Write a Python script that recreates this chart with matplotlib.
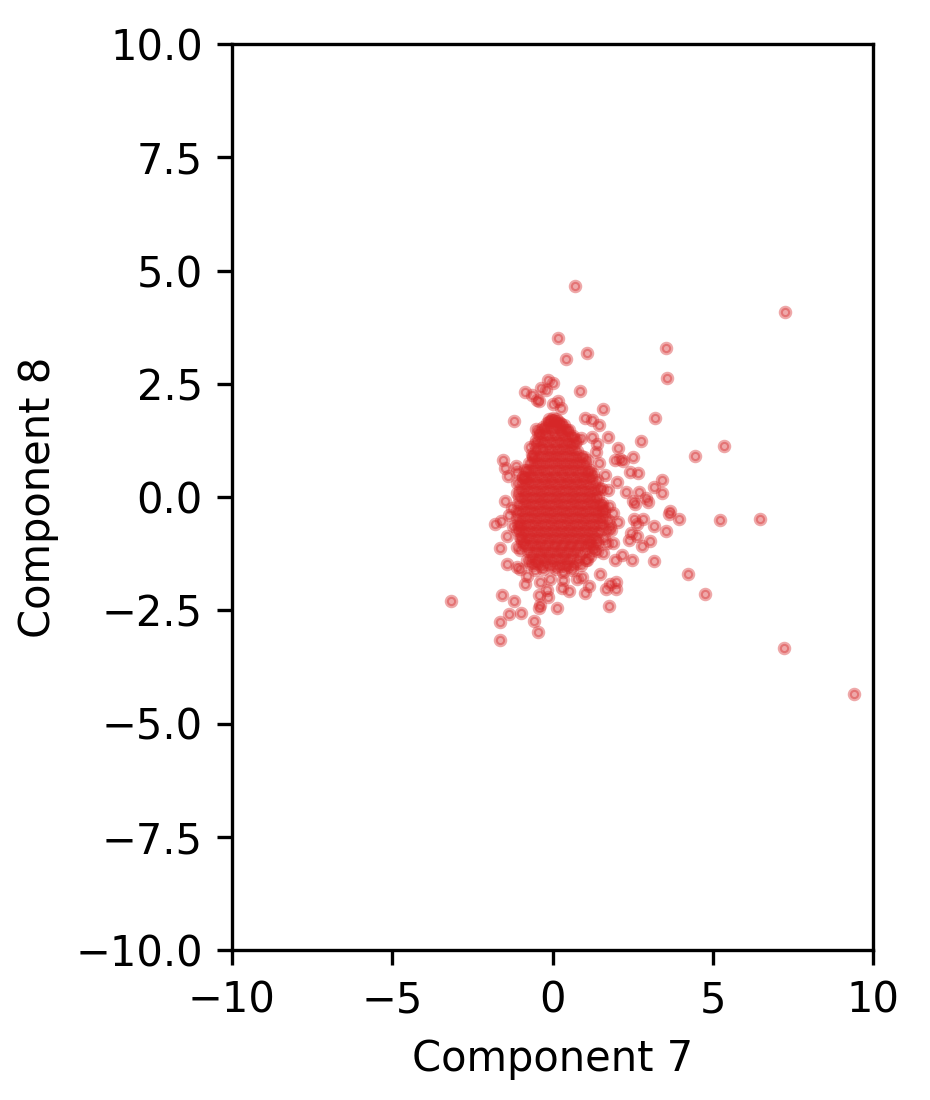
import numpy as np
import matplotlib
matplotlib.use('Agg')
import matplotlib.pyplot as plt

# (component 7, component 8)
outer_points = [
    (.18, 3.50), (1.09, 3.18), (.43, 3.04), (3.55, 3.28), (3.58, 2.62), (-.13, 2.58), (.01, 2.52),
    (-.36, 2.40), (-.20, 2.36), (-.85, 2.32), (-.65, 2.25), (-.49, 2.14), (-.42, 2.12), (.87, 2.34),
    (1.59, 1.94), (0, 2.05), (.18, 2.12), (.25, 1.96), (3.21, 1.74), (-1.19, 1.67), (1.01, 1.74),
    (1.24, 1.69), (1.45, 1.58), (-.5, 1.51), (-.44, 1.41), (1.72, 1.32), (2.77, 1.23), (1.22, 1.32),
    (1.38, 1.18), (-.70, 1.11), (2.03, 1.08), (1.36, 1.0), (4.46, .91), (1.95, .82), (2.11, .83),
    (2.50, .88), (2.21, .80), (-1.53, .82), (-1.48, .65), (-1.14, .68), (-1.38, .46), (-1.12, .56),
    (1.46, .74), (2.42, .56), (2.66, .52), (1.64, .49), (2.02, .33), (-1.12, .30), (3.41, .37),
    (3.18, .23), (3.43, .08), (1.74, .15), (1.53, .17), (2.28, .11), (2.70, .10), (2.92, -.03),
    (2.97, -.12), (2.57, -.15), (2.52, -.08), (-1.47, -.09), (-1.27, -.24), (-1.10, .08), (1.77, -.19),
    (-1.35, -.40), (1.90, -.35), (3.67, -.32), (3.65, -.38), (3.96, -.49), (-1.61, -.52), (-1.78, -.60),
    (2.54, -.49), (2.83, -.49), (2.65, -.60), (2.03, -.55), (3.18, -.63), (3.55, -.74), (-1.22, -.65),
    (1.81, -.73), (-1.41, -.87), (2.44, -.79), (2.63, -.86), (2.40, -.96), (3.05, -.97), (2.80, -1.09),
    (-1.64, -1.13), (-1.12, -1.10), (1.90, -1.02), (1.59, -1.24), (2.16, -1.28), (1.95, -1.39),
    (2.49, -1.39), (3.18, -1.42), (-1.43, -1.48), (-1.12, -1.55), (-1.01, -1.58), (-.55, -1.61),
    (.34, -1.65), (1.48, -1.69), (4.24, -1.71), (-.81, -1.74), (-.08, -1.80), (.91, -1.76), (.75, -1.82),
    (-.39, -1.87), (1.79, -1.91), (1.97, -1.88), (-.86, -1.93), (.34, -1.83), (.29, -2.0), (1.14, -1.97),
    (.53, -2.08), (-.18, -2.05), (1.67, -2.04), (1.98, -2.02), (1.01, -2.13), (-1.59, -2.17), (4.76, -2.15),
    (-.41, -2.17), (-.13, -2.20), (-1.19, -2.30), (-3.18, -2.30), (1.77, -2.41), (-.39, -2.38),
    (-.42, -2.46), (.15, -2.46), (-.99, -2.57), (-1.35, -2.59), (-1.64, -2.77), (-.57, -2.74),
    (-.45, -2.97), (-1.64, -3.16), (7.24, 4.08), (.70, 4.66), (5.35, 1.13), (5.22, -.51), (6.47, -.49),
    (7.22, -3.33), (9.41, -4.35),
]

# the dense middle, estimated row by row
core_points = [
    (-.12, 1.66), (-.03, 1.69), (.08, 1.64), (.17, 1.67), (.27, 1.62),
    (-.24, 1.52), (-.11, 1.55), (.01, 1.50), (.13, 1.54), (.26, 1.51), (.38, 1.49), (.52, 1.47),
    (-.38, 1.36), (-.25, 1.39), (-.13, 1.34), (0, 1.38), (.12, 1.35), (.25, 1.38), (.37, 1.33), (.5, 1.36), (.63, 1.34), (.88, 1.30),
    (-.42, 1.21), (-.3, 1.24), (-.17, 1.19), (-.05, 1.23), (.08, 1.2), (.2, 1.24), (.33, 1.19), (.45, 1.22), (.58, 1.18), (.7, 1.2),
    (-.5, 1.05), (-.37, 1.08), (-.25, 1.04), (-.12, 1.07), (0, 1.03), (.13, 1.07), (.26, 1.04), (.38, 1.08), (.5, 1.03), (.63, 1.06), (.75, 1.02),
    (-.6, .91), (-.47, .88), (-.35, .92), (-.22, .89), (-.1, .93), (.03, .88), (.15, .92), (.28, .89), (.4, .93), (.53, .88), (.65, .91), (.78, .88), (.9, .9),
    (-.72, .74), (-.6, .77), (-.47, .73), (-.35, .76), (-.22, .72), (-.1, .77), (.03, .74), (.15, .77), (.28, .73), (.4, .76), (.53, .72), (.65, .76), (.78, .73), (.9, .75), (1.02, .72),
    (-.85, .6), (-.72, .57), (-.6, .61), (-.47, .58), (-.35, .62), (-.22, .57), (-.1, .6), (.03, .58), (.15, .62), (.28, .57), (.4, .61), (.53, .58), (.65, .61), (.78, .57), (.9, .6), (1.03, .58), (1.14, .55),
    (-.92, .45), (-.8, .42), (-.67, .46), (-.55, .43), (-.42, .46), (-.3, .42), (-.17, .45), (-.05, .43), (.08, .46), (.2, .42), (.33, .46), (.45, .43), (.58, .45), (.7, .42), (.83, .46), (.95, .43), (1.08, .45), (1.2, .42),
    (-.98, .3), (-.85, .27), (-.73, .31), (-.6, .28), (-.48, .3), (-.35, .27), (-.23, .31), (-.1, .28), (.02, .3), (.15, .27), (.27, .31), (.4, .28), (.52, .3), (.65, .27), (.77, .31), (.9, .28), (1.02, .3), (1.15, .27), (1.28, .29),
    (-1.02, .15), (-.9, .12), (-.77, .16), (-.65, .13), (-.52, .15), (-.4, .12), (-.27, .16), (-.15, .13), (-.02, .15), (.1, .12), (.23, .16), (.35, .13), (.48, .15), (.6, .12), (.73, .16), (.85, .13), (.98, .15), (1.1, .12), (1.23, .16), (1.35, .13),
    (-1.05, 0), (-.93, -.03), (-.8, .01), (-.68, -.02), (-.55, 0), (-.43, -.03), (-.3, .01), (-.18, -.02), (-.05, 0), (.07, -.03), (.2, .01), (.32, -.02), (.45, 0), (.57, -.03), (.7, .01), (.82, -.02), (.95, 0), (1.07, -.03), (1.2, .01), (1.32, -.02), (1.42, 0),
    (-1.08, -.15), (-.95, -.18), (-.83, -.14), (-.7, -.17), (-.58, -.15), (-.45, -.18), (-.33, -.14), (-.2, -.17), (-.08, -.15), (.05, -.18), (.17, -.14), (.3, -.17), (.42, -.15), (.55, -.18), (.67, -.14), (.8, -.17), (.92, -.15), (1.05, -.18), (1.17, -.14), (1.3, -.17), (1.42, -.15), (1.52, -.18),
    (-1.1, -.3), (-.98, -.33), (-.85, -.29), (-.73, -.32), (-.6, -.3), (-.48, -.33), (-.35, -.29), (-.23, -.32), (-.1, -.3), (.02, -.33), (.15, -.29), (.27, -.32), (.4, -.3), (.52, -.33), (.65, -.29), (.77, -.32), (.9, -.3), (1.02, -.33), (1.15, -.29), (1.27, -.32), (1.4, -.3), (1.52, -.33), (1.62, -.3),
    (-1.1, -.45), (-.98, -.48), (-.85, -.44), (-.73, -.47), (-.6, -.45), (-.48, -.48), (-.35, -.44), (-.23, -.47), (-.1, -.45), (.02, -.48), (.15, -.44), (.27, -.47), (.4, -.45), (.52, -.48), (.65, -.44), (.77, -.47), (.9, -.45), (1.02, -.48), (1.15, -.44), (1.27, -.47), (1.4, -.45), (1.52, -.48), (1.62, -.45),
    (-1.08, -.6), (-.95, -.63), (-.83, -.59), (-.7, -.62), (-.58, -.6), (-.45, -.63), (-.33, -.59), (-.2, -.62), (-.08, -.6), (.05, -.63), (.17, -.59), (.3, -.62), (.42, -.6), (.55, -.63), (.67, -.59), (.8, -.62), (.92, -.6), (1.05, -.63), (1.17, -.59), (1.3, -.62), (1.42, -.6), (1.55, -.62),
    (-1.02, -.75), (-.9, -.78), (-.77, -.74), (-.65, -.77), (-.52, -.75), (-.4, -.78), (-.27, -.74), (-.15, -.77), (-.02, -.75), (.1, -.78), (.23, -.74), (.35, -.77), (.48, -.75), (.6, -.78), (.73, -.74), (.85, -.77), (.98, -.75), (1.1, -.78), (1.23, -.74), (1.35, -.77), (1.48, -.75),
    (-.98, -.9), (-.85, -.93), (-.73, -.89), (-.6, -.92), (-.48, -.9), (-.35, -.93), (-.23, -.89), (-.1, -.92), (.02, -.9), (.15, -.93), (.27, -.89), (.4, -.92), (.52, -.9), (.65, -.93), (.77, -.89), (.9, -.92), (1.02, -.9), (1.15, -.93), (1.27, -.89), (1.4, -.92),
    (-.88, -1.05), (-.75, -1.08), (-.63, -1.04), (-.5, -1.07), (-.38, -1.05), (-.25, -1.08), (-.13, -1.04), (0, -1.07), (.12, -1.05), (.25, -1.08), (.37, -1.04), (.5, -1.07), (.62, -1.05), (.75, -1.08), (.87, -1.04), (1.0, -1.07), (1.15, -1.05), (1.3, -1.08),
    (-.78, -1.2), (-.65, -1.23), (-.53, -1.19), (-.4, -1.22), (-.28, -1.2), (-.15, -1.23), (-.03, -1.19), (.1, -1.22), (.22, -1.2), (.35, -1.23), (.47, -1.19), (.6, -1.22), (.72, -1.2), (.88, -1.23), (1.05, -1.2),
    (-.68, -1.35), (-.52, -1.38), (-.4, -1.34), (-.27, -1.37), (-.15, -1.35), (-.02, -1.38), (.1, -1.34), (.23, -1.37), (.35, -1.35), (.48, -1.38), (.62, -1.34), (.8, -1.37), (1.05, -1.4),
    (-.6, -1.5), (-.35, -1.53), (-.2, -1.49), (-.05, -1.52), (.1, -1.5), (.25, -1.53), (.42, -1.49), (.6, -1.52),
]

# bumps along the edge of the dense middle
edge_points = [
    (1.17, -1.02), (1.27, -1.17), (1.07, -1.39), (.75, -1.46), (.44, -1.54), (-.49, -1.46), (-.81, -1.39),
    (-1.01, -1.17), (-1.01, -.88), (-1.12, -.73), (-.91, .45), (-.81, .6), (-.6, .89), (-.55, 1.18),
    (-.39, 1.48), (-.18, 1.63), (.03, 1.74), (.23, 1.63), (.44, 1.48), (.75, 1.26), (1.07, .82), (1.17, .6),
    (1.38, .38), (1.53, -.14), (1.69, -.73), (1.79, -.65), (1.69, -1.02), (1.38, -1.02),
    (-.95, -1.0), (-1.05, -.62), (-.85, .4), (-.65, .95), (-.5, 1.25), (-.3, 1.55), (-.1, 1.72), (.12, 1.72),
    (.35, 1.58), (.65, 1.3), (.98, .88), (1.25, .5), (1.45, .2), (1.6, -.25), (1.72, -.5), (1.6, -.9),
    (1.4, -1.2), (1.18, -1.3), (.9, -1.5), (.6, -1.62), (.1, -1.6), (-.3, -1.6), (-.7, -1.45),
]

all_points = outer_points + core_points + edge_points
comp7 = np.array([p[0] for p in all_points])
comp8 = np.array([p[1] for p in all_points])

x_ticks = [-10, -5, 0, 5, 10]
y_ticks = [-10.0, -7.5, -5.0, -2.5, 0.0, 2.5, 5.0, 7.5, 10.0]

fig = plt.figure(figsize=(3.1, 1100 / 300), dpi=300)
ax = fig.add_axes([232 / 930, 1 - 950 / 1100, (873 - 232) / 930, (950 - 44) / 1100])
ax.scatter(comp7, comp8, s=5, c='tab:red', alpha=0.4)
ax.set_xlim(-10, 10)
ax.set_ylim(-10, 10)
ax.set_xticks(x_ticks)
ax.set_yticks(y_ticks)
ax.set_xlabel('Component 7')
ax.set_ylabel('Component 8')
fig.savefig('out.png', dpi=300)
